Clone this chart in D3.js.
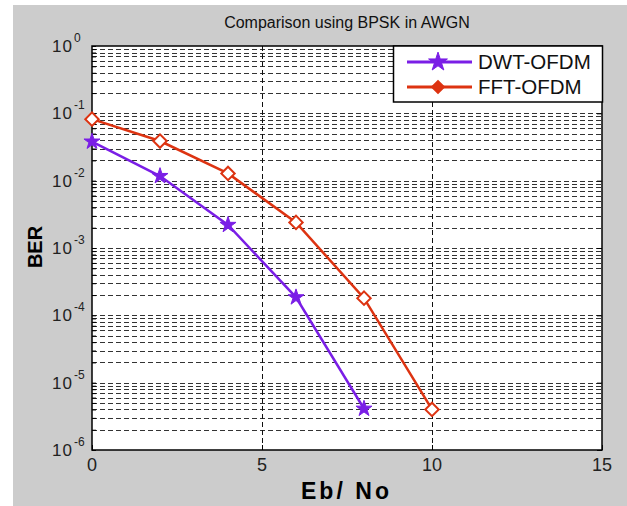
<!DOCTYPE html>
<html><head><meta charset="utf-8">
<script src="https://cdn.jsdelivr.net/npm/d3@7"></script>
<style>body{margin:0;background:#fff}svg{display:block;font-family:"Liberation Sans",Arial,sans-serif}</style>
</head><body>
<script>
const ebno = [0, 2, 4, 6, 8, 10];
const dwtEbno = [0, 2, 4, 6, 8];
const dwtBER = [0.038, 0.0117, 0.0022, 1.85e-4, 4.1e-6];
const fftBER = [0.082, 0.0388, 0.0128, 0.0024, 1.8e-4, 4.0e-6];
const xTicks = [0, 5, 10, 15];
const yExponents = [0, -1, -2, -3, -4, -5, -6];
const seriesNames = ["DWT-OFDM", "FFT-OFDM"];
const colors = ["#7a1ee6", "#dd3311"];

const W = 627, H = 506;
const L = 92, R = 602, T = 46, B = 450;
const svg = d3.select("body").append("svg").attr("width", W).attr("height", H);
svg.append("rect").attr("x", 13).attr("y", 5).attr("width", W - 13).attr("height", H - 5).attr("fill", "#cccccc");

const x = d3.scaleLinear().domain([0, 15]).range([L, R]);
const y = d3.scaleLog().domain([1e-6, 1]).range([B, T]);

svg.append("rect").attr("x", L).attr("y", T).attr("width", R - L).attr("height", B - T).attr("fill", "#fff");

// grid
const grid = svg.append("g").attr("stroke", "#333").attr("stroke-width", 1).attr("stroke-dasharray", "5,3").attr("shape-rendering", "crispEdges");
const minorVals = [];
for (let e = -6; e < 0; e++) for (let m = 1; m <= 9; m++) minorVals.push(m * Math.pow(10, e));
minorVals.forEach(v => {
  if (v >= 1 || v <= 1e-6) return;
  grid.append("line").attr("x1", L).attr("x2", R).attr("y1", Math.round(y(v)) + 0.5).attr("y2", Math.round(y(v)) + 0.5);
});
[5, 10].forEach(v => grid.append("line").attr("x1", Math.round(x(v)) + 0.5).attr("x2", Math.round(x(v)) + 0.5).attr("y1", T).attr("y2", B).attr("stroke", "#111"));

// axes via d3
const yAxis = d3.axisLeft(y).tickValues(minorVals.concat([1])).tickSize(-4).tickFormat("");
svg.append("g").attr("transform", `translate(${L},0)`).call(yAxis).call(g => { g.select(".domain").remove(); g.selectAll("line").attr("stroke", "#000"); });
const yAxisR = d3.axisRight(y).tickValues(yExponents.map(e => Math.pow(10, e))).tickSize(-5).tickFormat("");
svg.append("g").attr("transform", `translate(${R},0)`).call(yAxisR).call(g => { g.select(".domain").remove(); g.selectAll("line").attr("stroke", "#000"); });
const xAxis = d3.axisBottom(x).tickValues(xTicks).tickSize(-5).tickFormat("");
svg.append("g").attr("transform", `translate(0,${B})`).call(xAxis).call(g => { g.select(".domain").remove(); g.selectAll("line").attr("stroke", "#000"); });

svg.append("rect").attr("x", L).attr("y", T).attr("width", R - L).attr("height", B - T).attr("fill", "none").attr("stroke", "#000").attr("stroke-width", 1.5);

// tick labels
xTicks.forEach(v => svg.append("text").attr("x", x(v)).attr("y", 471).attr("text-anchor", "middle").attr("font-size", 18).attr("fill", "#222").text(v));
yExponents.forEach(e => {
  const yy = y(Math.pow(10, e));
  svg.append("text").attr("x", 73).attr("y", yy + 6).attr("text-anchor", "end").attr("font-size", 17).attr("letter-spacing", 1).attr("fill", "#222").text("10");
  svg.append("text").attr("x", 74).attr("y", yy - 4).attr("font-size", 12).attr("fill", "#222").text(String(e));
});

// title and labels
svg.append("text").attr("x", 347).attr("y", 28).attr("text-anchor", "middle").attr("font-size", 16).attr("fill", "#111").text("Comparison using BPSK in AWGN");
svg.append("text").attr("x", 301).attr("y", 499).attr("font-size", 23).attr("font-weight", "bold").attr("textLength", 88).attr("lengthAdjust", "spacing").attr("fill", "#000").text("Eb/ No");
svg.append("text").attr("transform", "translate(42,247) rotate(-90)").attr("text-anchor", "middle").attr("font-size", 20).attr("font-weight", "bold").attr("fill", "#000").text("BER");

// series
const line = d3.line().x(d => x(d[0])).y(d => y(d[1]));
const dwtData = dwtEbno.map((v, i) => [v, dwtBER[i]]);
const fftData = ebno.map((v, i) => [v, fftBER[i]]);
const star = d3.symbol().type(d3.symbolStar).size(80);
const diamond = d3.symbol().type(d3.symbolSquare).size(90);

svg.append("path").datum(dwtData).attr("d", line).attr("fill", "none").attr("stroke", colors[0]).attr("stroke-width", 2.5);
svg.append("path").datum(fftData).attr("d", line).attr("fill", "none").attr("stroke", colors[1]).attr("stroke-width", 2.5);
svg.selectAll(".star").data(dwtData).enter().append("path").attr("d", star).attr("transform", d => `translate(${x(d[0])},${y(d[1])})`).attr("fill", colors[0]).attr("stroke", colors[0]).attr("stroke-width", 1);
svg.selectAll(".dia").data(fftData).enter().append("path").attr("d", diamond).attr("transform", d => `translate(${x(d[0])},${y(d[1])}) rotate(45)`).attr("fill", "#fff").attr("stroke", colors[1]).attr("stroke-width", 2);

// legend
const lg = svg.append("g");
lg.append("rect").attr("x", 393.5).attr("y", 46).attr("width", 209).attr("height", 56).attr("fill", "#fff").attr("stroke", "#000").attr("stroke-width", 1.5);
const rows = [62, 87];
rows.forEach((ry, i) => {
  lg.append("line").attr("x1", 407).attr("x2", 472).attr("y1", ry).attr("y2", ry).attr("stroke", colors[i]).attr("stroke-width", 3);
  if (i === 0) lg.append("path").attr("d", d3.symbol().type(d3.symbolStar).size(110)).attr("transform", `translate(438,${ry})`).attr("fill", colors[0]).attr("stroke", colors[0]);
  else lg.append("path").attr("d", d3.symbol().type(d3.symbolSquare).size(70)).attr("transform", `translate(438,${ry}) rotate(45)`).attr("fill", colors[1]).attr("stroke", colors[1]).attr("stroke-width", 2);
  lg.append("text").attr("x", 478).attr("y", ry + 7).attr("font-size", 20.5).attr("fill", "#111").text(seriesNames[i]);
});
</script>
</body></html>
